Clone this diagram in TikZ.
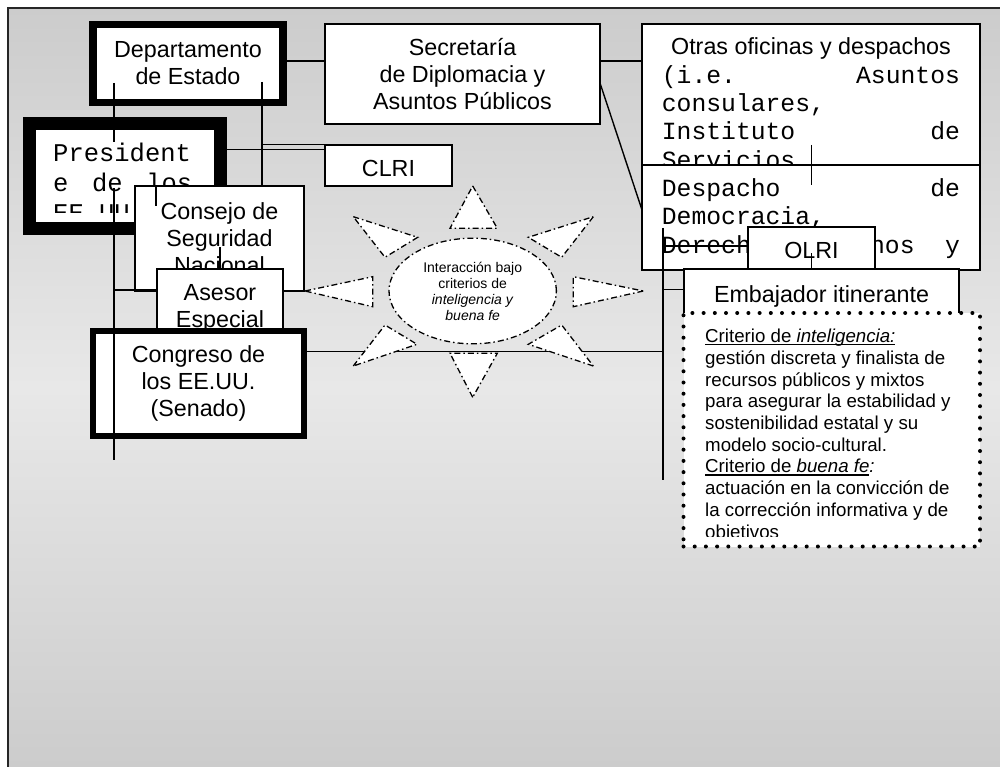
\documentclass[tikz,border=0pt]{standalone}
\usepackage{fontspec}
\setmainfont{Liberation Sans}
\newfontfamily\monofam{Liberation Mono}
\usetikzlibrary{shapes.geometric}
\newcommand\myul[1]{\setbox0\hbox{#1}\rlap{\rule[-2.6pt]{\wd0}{1.2pt}}\box0}
\begin{document}
\begin{tikzpicture}[x=1pt,y=-1pt,
  box/.style={draw=black, fill=white, line width=1.4pt, inner sep=0pt, align=center, font=\fontsize{23.3}{27}\selectfont},
  heavybox/.style={box, line width=#1},
  mono/.style={anchor=base west, inner sep=0pt, font=\monofam\fontsize{24.7}{28.3}\selectfont},
  conn/.style={draw=black, line width=1.4pt},
  ray/.style={draw=black, fill=white, line width=1.3pt, dash pattern=on 6pt off 3pt on 1.5pt off 3pt},
  dotbox/.style={draw=black, fill=white, line width=4pt, line cap=round, dash pattern=on 0pt off 11.2pt}
]
\useasboundingbox (0,0) rectangle (1000,767);
% background frame
\shade[top color=black!20, bottom color=black!20, middle color=black!9] (8,8) rectangle (1000,767);
\draw[line width=1.6pt, black!85] (1000,8) -- (8,8) -- (8,767);

% left group
\node[heavybox=7.5pt, minimum width=190pt, minimum height=78pt] (dept) at (188,63.5) {Departamento\\de Estado};
\node[heavybox=13pt, minimum width=190.5pt, minimum height=105pt] (pres) at (124.75,176.5) {};
\begin{scope}
\clip (36,131) rectangle (213,213);
\node[mono, font=\monofam\fontsize{25.5}{30}\selectfont] (prestxt) at (53,161.7) {\vtop{\hbox{President}\hbox to 139pt{e\hfill de\hfill los}\hbox{EE.UU.}}};
\end{scope}
\node[box, minimum width=169pt, minimum height=105pt] (cons) at (219.5,238.5) {Consejo de\\Seguridad\\Nacional};
\node[box, minimum width=126pt, minimum height=73pt, text height=48pt] (ases) at (220,305.5) {Asesor\\Especial};
\node[heavybox=6.3pt, minimum width=211pt, minimum height=105pt] (cong) at (198.5,383.5) {Congreso de\\los EE.UU.\\(Senado)};

% middle group
\node[box, minimum width=275pt, minimum height=100pt] (secr) at (462.5,74) {Secretaría\\de Diplomacia y\\Asuntos Públicos};
\node[box, minimum width=127pt, minimum height=41pt, text height=22pt, text depth=0pt] (clri) at (388.5,165.5) {CLRI};

% right group
\node[box, minimum width=338pt, minimum height=176pt] (otras) at (811,112) {};
\node[anchor=base, inner sep=0pt, font=\fontsize{23.3}{27}\selectfont] (otrastit) at (811,55) {Otras oficinas y despachos};
\node[mono] (otrastxt) at (661.7,83.3) {\vtop{\hbox to 298pt{(i.e.\hfill Asuntos}\hbox{consulares,}\hbox to 298pt{Instituto\hfill de}\hbox{Servicios}}};
\node[box, minimum width=338pt, minimum height=105pt] (desp) at (811,217.5) {};
\node[mono] (desptxt) at (661.7,196.7) {\vtop{\hbox to 298pt{Despacho\hfill de}\hbox{Democracia,}\hbox to 298pt{Derechos\hfill Humanos\hfill y}}};
\node[box, minimum width=127pt, minimum height=46pt] (olri) at (811.5,250) {OLRI};
\node[box, minimum width=275pt, minimum height=45pt, text height=22pt, text depth=0pt] (emb) at (821.5,291.5) {Embajador itinerante};
\node[dotbox, minimum width=296.5pt, minimum height=233.5pt] (crit) at (831.75,429.75) {};
\begin{scope}
\clip (687,316) rectangle (977,536.7);
\node[anchor=base west, inner sep=0pt, font=\fontsize{18.7}{21.7}\selectfont] (crittxt) at (705,342.7) {\vtop{
 \hbox{\myul{Criterio de \textit{inteligencia:}}}
 \hbox{gestión discreta y finalista de}
 \hbox{recursos públicos y mixtos}
 \hbox{para asegurar la estabilidad y}
 \hbox{sostenibilidad estatal y su}
 \hbox{modelo socio-cultural.}
 \hbox{\myul{Criterio de \textit{buena fe}}\textit{:}}
 \hbox{actuación en la convicción de}
 \hbox{la corrección informativa y de}
 \hbox{objetivos}
}};
\end{scope}

% helper coordinates
\coordinate (y61) at (0,61);
\coordinate (y149) at (0,149.3);
\coordinate (y290) at (0,290);
\coordinate (y351) at (0,351.5);
\coordinate (y246) at (0,246);
\coordinate (y289) at (0,289.3);
\coordinate (vtop) at (663,228);
\coordinate (vbot) at (663,480);

% Congreso line (under the star)
\draw[conn] (cong.east |- y351) -- (vtop |- y351);

% star
\draw[ray] (472.7,186) -- (497.3,228.3) -- (450,228.3) -- cycle;
\draw[ray] (593.3,216.7) -- (561.7,257.3) -- (528.3,237.3) -- cycle;
\draw[ray] (643.3,291) -- (573.3,306.7) -- (573.3,276.7) -- cycle;
\draw[ray] (593.3,366) -- (528.3,344.3) -- (561.7,325) -- cycle;
\draw[ray] (472.7,397.3) -- (450,353.3) -- (497.3,353.3) -- cycle;
\draw[ray] (353.3,366) -- (385,325) -- (417,344.3) -- cycle;
\draw[ray] (305,291) -- (372.7,276.7) -- (372.7,306.7) -- cycle;
\draw[ray] (353.3,216.7) -- (417.7,237.3) -- (385,257.3) -- cycle;
\node[ray, ellipse, minimum width=167.4pt, minimum height=105.6pt, inner sep=0pt, align=center, font=\fontsize{14}{16}\selectfont] (inter) at (472.7,291) {Interacción bajo\\criterios de\\\textit{inteligencia y}\\\textit{buena fe}};

% connectors
\coordinate (a1) at (114,83);
\coordinate (a2) at (114,142);
\coordinate (a3) at (114,188);
\coordinate (a4) at (114,460);
\coordinate (b1) at (262,82);
\coordinate (t1) at (156,186);
\coordinate (t2) at (156,206);
\coordinate (t3) at (220,247);
\coordinate (d1) at (600,83);
\coordinate (d2) at (642,210);
\coordinate (o1) at (811.7,145);
\coordinate (o2) at (811.7,185);
\coordinate (o3) at (811.7,253);

\draw[conn] (dept.east |- y61) -- (secr.west |- y61);
\draw[conn] (secr.east |- y61) -- (otras.west |- y61);
\draw[conn] (d1) -- (d2);
\draw[conn] (a1) -- (a2);
\draw[conn] (a3) -- (a4);
\draw[conn] (b1) -- (b1 |- cons.north);
\draw[conn] (b1 |- clri.north) -- (clri.north west);
\draw[conn] (pres.east |- y149) -- (clri.west |- y149);
\draw[conn] (a4 |- y290) -- (ases.west |- y290);
\draw[conn] (t1) -- (t2);
\draw[conn] (t3) -- (ases.north);
\draw[conn] (vtop) -- (vbot);
\draw[conn] (vtop |- y246) -- (olri.west |- y246);
\draw[conn] (vtop |- y289) -- (emb.west |- y289);
\draw[conn] (o1) -- (o2);
\draw[conn] (o3) -- (o3 |- emb.north);
\end{tikzpicture}
\end{document}
